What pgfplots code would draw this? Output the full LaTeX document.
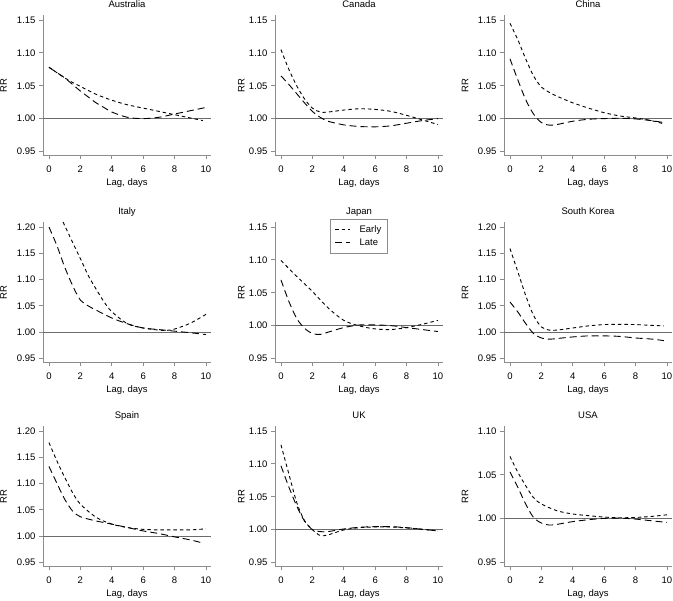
\documentclass[border=0pt]{standalone}
\usepackage{pgfplots}
\pgfplotsset{compat=1.18}
\usepackage{fontspec}
\setmainfont{Liberation Sans}
\newcommand{\fs}{\fontsize{9.5}{11}\selectfont}
\definecolor{axgray}{gray}{0.55}
\definecolor{refgray}{gray}{0.42}
\pgfplotsset{
  panel/.style={
    scale only axis, width=168pt, height=140.5pt, anchor=north west,
    xmin=-0.38, xmax=10.32, xtick={0,2,4,6,8,10},
    axis x line*=bottom, axis y line*=left,
    axis line style={-, draw=axgray, line width=0.8pt},
    tick align=outside, major tick length=4pt,
    tick style={axgray, line width=0.8pt},
    /pgf/number format/assume math mode=true,
    yticklabel style={/pgf/number format/.cd, fixed, fixed zerofill, precision=2},
    xticklabel style={yshift=-2.5pt},
    font=\fs,
    xlabel={Lag, days}, ylabel={RR},
    every axis title shift=0pt,
    title style={at={(0.5,1)}, anchor=base, yshift=7pt, font=\fs},
    xlabel style={at={(0.5,0)}, anchor=base, yshift=-30pt, font=\fs},
    ylabel style={font=\fs, anchor=center},
    early/.style={black, line width=0.9pt, dash pattern=on 3.5pt off 3pt, smooth},
    late/.style={black, line width=0.9pt, dash pattern=on 7pt off 4pt, smooth},
  },
  r15/.style={ymin=0.9439, ymax=1.1576, ytick={0.95,1,1.05,1.1,1.15}},
  r20/.style={ymin=0.9424, ymax=1.2095, ytick={0.95,1,1.05,1.1,1.15,1.2}},
  r10/.style={ymin=0.9454, ymax=1.1057, ytick={0.95,1,1.05,1.1}},
  colA/.style={ylabel style={at={(axis description cs:-0.235,0.5)}}},
  colB/.style={ylabel style={at={(axis description cs:-0.2,0.5)}}},
  colC/.style={ylabel style={at={(axis description cs:-0.232,0.5)}}},
}
\newcommand{\refline}{\addplot[refgray, line width=0.8pt, forget plot] coordinates {(-0.38,1) (10.32,1)};}
\begin{document}
\begin{tikzpicture}
\useasboundingbox (0,0) rectangle (673pt,-601pt);
% Australia
\begin{axis}[panel, r15, colA, at={(43pt,-15pt)}, title={Australia}]
\refline
\addplot[early] coordinates {(0,1.078)(0.5,1.070)(1,1.062)(1.5,1.055)(2,1.049)(3,1.037)(4,1.028)(5,1.021)(6,1.016)(7,1.011)(8,1.006)(9,1.001)(9.8,0.997)};
\addplot[late] coordinates {(0,1.078)(0.5,1.070)(1,1.062)(1.5,1.052)(2,1.042)(2.5,1.033)(3,1.024)(3.5,1.017)(4,1.010)(5,1.002)(6,1.000)(7,1.002)(8,1.007)(9,1.012)(10,1.017)};
\end{axis}
% Canada
\begin{axis}[panel, r15, colB, at={(275pt,-15pt)}, title={Canada}]
\refline
\addplot[early] coordinates {(0,1.105)(0.5,1.075)(1,1.050)(1.5,1.030)(2,1.016)(2.5,1.010)(3,1.010)(4,1.013)(5,1.015)(6,1.014)(7,1.011)(8,1.005)(9,0.998)(10,0.991)};
\addplot[late] coordinates {(0,1.065)(0.5,1.052)(1,1.038)(1.5,1.024)(2,1.011)(2.5,1.002)(3,0.996)(4,0.9905)(5,0.988)(6,0.9875)(7,0.989)(8,0.993)(9,0.997)(10,1.000)};
\end{axis}
% China
\begin{axis}[panel, r15, colC, at={(504pt,-15pt)}, title={China}]
\refline
\addplot[early] coordinates {(0,1.145)(0.5,1.120)(1,1.091)(1.5,1.065)(2,1.048)(2.5,1.040)(3,1.034)(4,1.024)(5,1.016)(6,1.009)(7,1.004)(8,1.001)(9,0.997)(9.8,0.992)};
\addplot[late] coordinates {(0,1.091)(0.5,1.059)(1,1.029)(1.5,1.007)(2,0.994)(2.5,0.990)(3,0.991)(4,0.996)(5,0.999)(6,1.000)(7,1.0005)(8,0.9995)(9,0.997)(9.8,0.994)};
\end{axis}
% Italy
\begin{axis}[panel, r20, colA, at={(43pt,-222pt)}, title={Italy}]
\refline
\addplot[early] coordinates {(0,1.265)(0.5,1.234)(1,1.203)(1.5,1.171)(2,1.140)(2.5,1.108)(3,1.082)(3.5,1.058)(4,1.039)(5,1.016)(6,1.008)(7,1.004)(7.5,1.0035)(8,1.006)(9,1.017)(10,1.034)};
\addplot[late] coordinates {(0,1.200)(0.5,1.165)(1,1.124)(1.5,1.089)(2,1.061)(2.5,1.050)(3,1.042)(4,1.027)(5,1.016)(6,1.008)(7,1.005)(8,1.002)(9,0.999)(10,0.9955)};
\end{axis}
% Japan
\begin{axis}[panel, r15, colB, at={(275pt,-222pt)}, title={Japan},
  legend style={at={(0.5,1.02)}, anchor=north, draw=axgray, line width=0.6pt, font=\fs,
    inner sep=4pt, row sep=1pt, column sep=7pt, nodes={inner sep=2pt}},
  legend cell align=left,
  legend image code/.code={\draw[#1] (0pt,0pt) -- (15pt,0pt);}]
\refline
\addplot[early] coordinates {(0,1.099)(1,1.075)(2,1.052)(3,1.027)(4,1.008)(5,0.9995)(6,0.995)(7,0.994)(8,0.997)(9,1.002)(10,1.008)};
\addlegendentry{Early}
\addplot[late] coordinates {(0,1.0695)(0.5,1.037)(1,1.011)(1.5,0.996)(2,0.988)(2.5,0.9866)(3,0.990)(4,0.997)(5,1.001)(6,1.001)(7,1.000)(8,0.997)(9,0.994)(10,0.991)};
\addlegendentry{Late}
\end{axis}
% South Korea
\begin{axis}[panel, r20, colC, at={(504pt,-222pt)}, title={South Korea}]
\refline
\addplot[early] coordinates {(0,1.159)(0.5,1.115)(1,1.070)(1.5,1.032)(2,1.010)(2.5,1.004)(3,1.004)(4,1.008)(5,1.012)(6,1.0145)(7,1.0148)(8,1.0145)(9,1.013)(9.8,1.012)};
\addplot[late] coordinates {(0,1.0575)(0.5,1.0385)(1,1.0165)(1.5,0.9975)(2,0.989)(2.5,0.9867)(3,0.988)(4,0.991)(5,0.993)(6,0.993)(7,0.992)(8,0.989)(9,0.987)(9.8,0.984)};
\end{axis}
% Spain
\begin{axis}[panel, r20, colA, at={(43pt,-426pt)}, title={Spain}]
\refline
\addplot[early] coordinates {(0,1.178)(0.5,1.1435)(1,1.112)(1.5,1.083)(2,1.061)(3,1.036)(4,1.023)(5,1.0165)(6,1.013)(7,1.012)(8,1.012)(9,1.012)(10,1.014)};
\addplot[late] coordinates {(0,1.1327)(0.5,1.101)(1,1.0704)(1.5,1.048)(2,1.037)(3,1.029)(4,1.023)(5,1.0165)(6,1.010)(7,1.005)(8,0.9987)(9,0.993)(9.8,0.987)};
\end{axis}
% UK
\begin{axis}[panel, r15, colB, at={(275pt,-426pt)}, title={UK}]
\refline
\addplot[early] coordinates {(0,1.129)(0.5,1.085)(1,1.0415)(1.5,1.0136)(2,1.000)(2.5,0.991)(3,0.992)(4,0.9995)(5,1.003)(6,1.004)(7,1.004)(8,1.0025)(9,1.0005)(10,0.998)};
\addplot[late] coordinates {(0,1.097)(0.5,1.065)(1,1.036)(1.5,1.013)(2,1.000)(2.5,0.997)(3,0.997)(4,1.001)(5,1.0035)(6,1.0045)(7,1.0045)(8,1.003)(9,1.0005)(10,0.998)};
\end{axis}
% USA
\begin{axis}[panel, r10, colC, at={(504pt,-426pt)}, title={USA}]
\refline
\addplot[early] coordinates {(0,1.071)(0.5,1.053)(1,1.0376)(1.5,1.024)(2,1.0167)(3,1.009)(4,1.0053)(5,1.0034)(6,1.0018)(7,1.001)(8,1.0014)(9,1.0025)(10,1.0044)};
\addplot[late] coordinates {(0,1.0533)(0.5,1.0357)(1,1.0167)(1.5,1.0014)(2,0.995)(2.5,0.9927)(3,0.9935)(4,0.9966)(5,0.9988)(6,1.0003)(7,1.0006)(8,0.9995)(9,0.9976)(10,0.9957)};
\end{axis}
\end{tikzpicture}
\end{document}
